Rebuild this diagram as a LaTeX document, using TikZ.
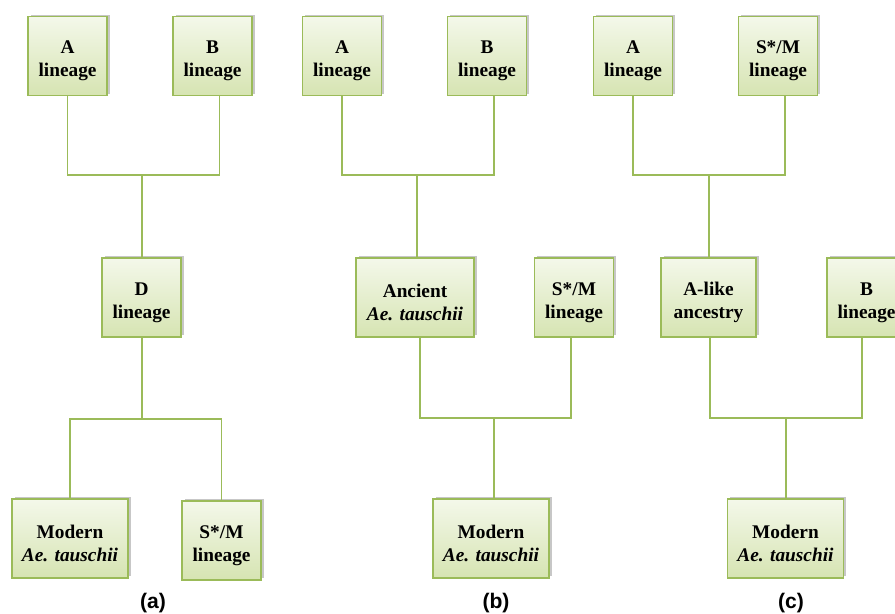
\documentclass[tikz,border=0pt]{standalone}
\usepackage{fontspec}
\setmainfont{Liberation Serif}
\setsansfont{Liberation Sans}
\usetikzlibrary{shadows}
\definecolor{cgreen}{HTML}{9BBB59}
\definecolor{ctop}{HTML}{F4F8EA}
\definecolor{cbot}{HTML}{D6E4B2}
\tikzset{
  every picture/.style={x=0.02cm, y=-0.02cm},
  box/.style={draw=cgreen, line width=0.85pt, top color=ctop, bottom color=cbot, align=center, inner sep=0pt,
    minimum width=#1, minimum height=1.58cm, font=\fontsize{11}{13}\selectfont\bfseries,
    drop shadow={shadow xshift=1.6pt, shadow yshift=1.1pt, fill=black, opacity=0.22}},
  box/.default=1.58cm,
  link/.style={draw=cgreen, line width=1.1pt},
  tag/.style={font=\sffamily\bfseries\fontsize{12}{14}\selectfont},
}
\newcommand{\twoline}[2]{\rule{0pt}{13pt}#1\\#2}% top line, bottom line

\begin{document}
\begin{tikzpicture}
  \useasboundingbox (0,0) rectangle (895,614);
  % (a) D lineage in the middle
  \node[box] (aA) at (67.5,56) {\twoline{A}{lineage}};
  \node[box] (aB) at (212.5,56) {\twoline{B}{lineage}};
  \node[box] (aD) at (141.5,297.5) {\twoline{D}{lineage}};
  \node[box=2.32cm] (aMod) at (70,538.5) {\twoline{Modern}{\textit{Ae. tauschii}}};
  \node[box] (aSM) at (221.5,540.5) {\twoline{S*/M}{lineage}};
  \coordinate (aJ1) at (142,175);
  \coordinate (aJ2) at (142,419);
  \draw[link] (aA.south) |- (aJ1) -| ([xshift=4pt]aB.south);
  \draw[link] (aJ1) -- (aJ1 |- aD.north);
  \draw[link] (aJ2 |- aD.south) -- (aJ2);
  \draw[link] (aMod.north) |- (aJ2) -| (aSM.north);
  % (b) ancient Ae. tauschii
  \node[box] (bA) at (342,56) {\twoline{A}{lineage}};
  \node[box] (bB) at (487,56) {\twoline{B}{lineage}};
  \node[box=2.36cm] (bAnc) at (415,297.5) {\twoline{Ancient}{\textit{Ae. tauschii}}};
  \node[box] (bSM) at (574,297.5) {\twoline{S*/M}{lineage}};
  \node[box=2.32cm] (bMod) at (491,538.5) {\twoline{Modern}{\textit{Ae. tauschii}}};
  \coordinate (bJ1) at (417,175);
  \coordinate (bJ2) at (494,418);
  \draw[link] (bA.south) |- (bJ1) -| ([xshift=4pt]bB.south);
  \draw[link] (bJ1) -- (bJ1 |- bAnc.north);
  \draw[link] ([xshift=3pt]bAnc.south) |- (bJ2) -| ([xshift=-1.5pt]bSM.south);
  \draw[link] (bJ2) -- (bJ2 |- bMod.north);
  % (c) A-like ancestry
  \node[box] (cA) at (633,56) {\twoline{A}{lineage}};
  \node[box] (cSM) at (778,56) {\twoline{S*/M}{lineage}};
  \node[box=1.9cm] (cAlike) at (708.5,297.5) {\twoline{A-like}{ancestry}};
  \node[box] (cB) at (866.5,297.5) {\twoline{B}{lineage}};
  \node[box=2.32cm] (cMod) at (785.5,538.5) {\twoline{Modern}{\textit{Ae. tauschii}}};
  \coordinate (cJ1) at (709,175);
  \coordinate (cJ2) at (786,418);
  \draw[link] (cA.south) |- (cJ1) -| ([xshift=4pt]cSM.south);
  \draw[link] (cJ1) -- (cJ1 |- cAlike.north);
  \draw[link] ([xshift=1pt]cAlike.south) |- (cJ2) -| ([xshift=-2.5pt]cB.south);
  \draw[link] (cJ2) -- (cJ2 |- cMod.north);
  % panel tags
  \node[tag] (la) at (153,603) {(a)};
  \node[tag] (lb) at (496,603) {(b)};
  \node[tag] (lc) at (791,603) {(c)};
\end{tikzpicture}
\end{document}
